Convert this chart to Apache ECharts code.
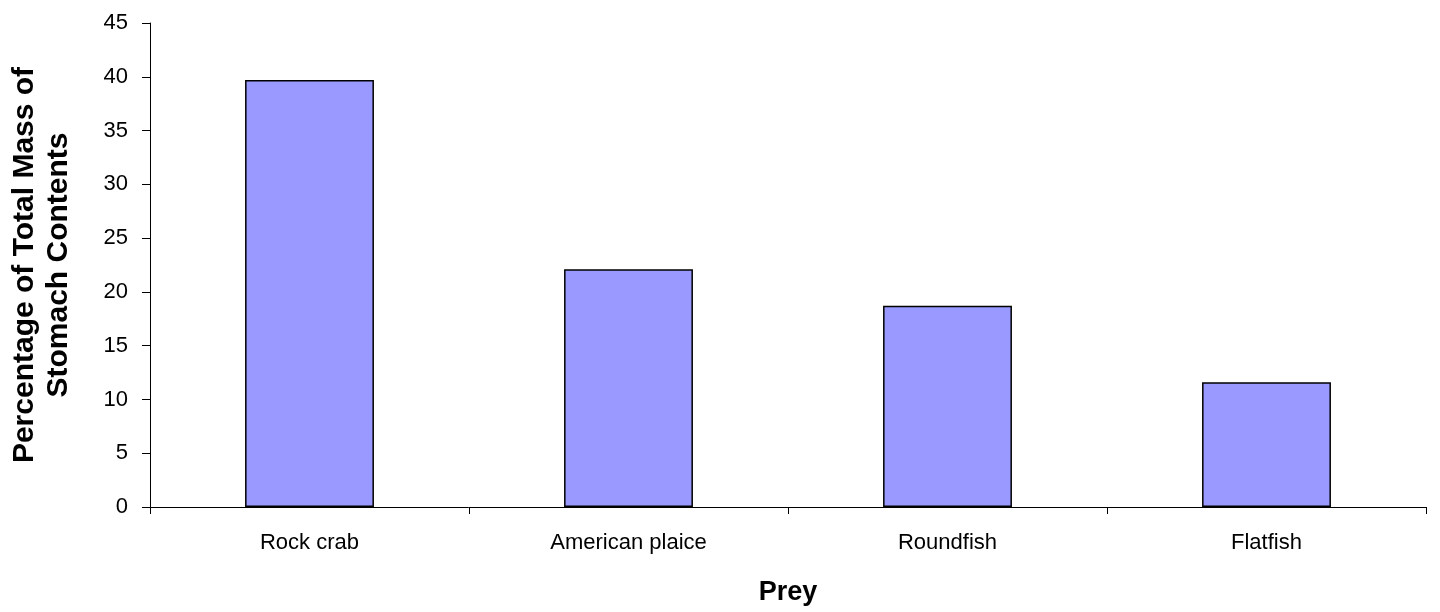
<!DOCTYPE html>
<html>
<head>
<meta charset="utf-8">
<script src="https://cdn.jsdelivr.net/npm/echarts@6/dist/echarts.min.js"></script>
<style>
html,body{margin:0;padding:0;background:#fff;}
#chart{width:1440px;height:612px;}
</style>
</head>
<body>
<div id="chart"></div>
<script>
const categories = ['Rock crab', 'American plaice', 'Roundfish', 'Flatfish'];
const values = [39.7, 22.1, 18.7, 11.6];
const yTicks = [0, 5, 10, 15, 20, 25, 30, 35, 40, 45];
const yTitle = 'Percentage of Total Mass of\nStomach Contents';
const xTitle = 'Prey';

const chart = echarts.init(document.getElementById('chart'), null, {renderer: 'canvas'});
const font = '"Liberation Sans", Arial, sans-serif';
chart.setOption({
  animation: false,
  backgroundColor: '#ffffff',
  grid: {left: 148, right: 14, top: 23, bottom: 103, containLabel: false},
  xAxis: {
    type: 'category',
    data: categories,
    boundaryGap: true,
    name: xTitle,
    nameLocation: 'middle',
    nameGap: 72,
    nameTextStyle: {fontFamily: font, fontSize: 27, fontWeight: 'bold', color: '#000', lineHeight: 28},
    axisLine: {show: true, lineStyle: {color: '#000', width: 1}},
    axisTick: {show: true, inside: false, length: 7, alignWithLabel: false, lineStyle: {color: '#000'}},
    axisLabel: {fontFamily: font, fontSize: 22, color: '#000', margin: 25, lineHeight: 22},
    splitLine: {show: false}
  },
  yAxis: {
    type: 'value',
    min: yTicks[0],
    max: yTicks[yTicks.length - 1],
    interval: 5,
    name: yTitle,
    nameLocation: 'middle',
    nameRotate: 90,
    nameGap: 74,
    nameTextStyle: {fontFamily: font, fontSize: 30, fontWeight: 'bold', color: '#000', lineHeight: 34, align: 'center'},
    axisLine: {show: true, lineStyle: {color: '#000', width: 1}},
    axisTick: {show: true, inside: false, length: 8, lineStyle: {color: '#000'}},
    axisLabel: {fontFamily: font, fontSize: 22, color: '#000', margin: 22},
    splitLine: {show: false}
  },
  series: [{
    type: 'bar',
    data: values,
    barWidth: '40.4%',
    itemStyle: {color: '#9999FF', borderColor: '#000', borderWidth: 1.5},
    emphasis: {disabled: true}
  }]
});
</script>
</body>
</html>
